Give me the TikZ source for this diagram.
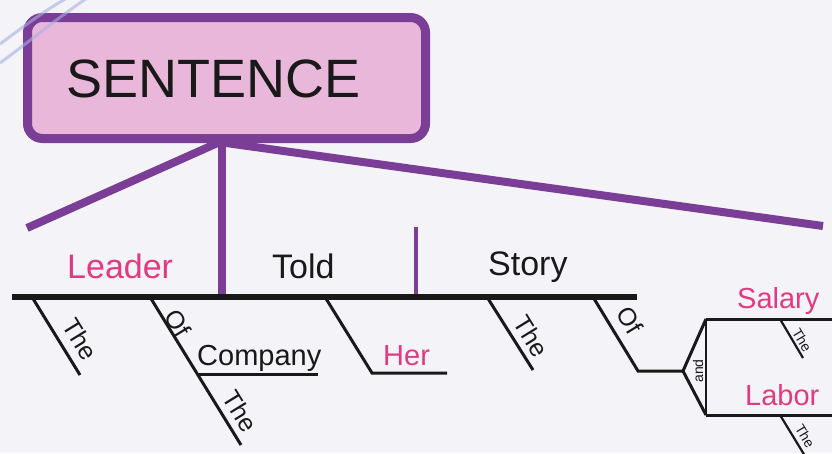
\documentclass[tikz,border=0pt]{standalone}
\usepackage{fontspec}
\setmainfont{Liberation Sans}
\definecolor{paper}{RGB}{244,243,247}
\definecolor{purp}{RGB}{122,62,150}
\definecolor{pinkfill}{RGB}{233,183,218}
\definecolor{wordpink}{RGB}{226,58,130}
\definecolor{ink}{RGB}{25,25,25}
\definecolor{halo}{RGB}{168,176,226}
\tikzset{
  word/.style={font=\fontsize{29}{29}\selectfont, inner sep=0pt, text=ink, anchor=base west},
  big word/.style={word, font=\fontsize{34}{34}\selectfont},
  noun/.style={word, text=wordpink},
  modword/.style={font=\fontsize{25}{25}\selectfont, inner sep=0pt, text=ink, rotate=-58.4},
  smallword/.style={font=\fontsize{14}{14}\selectfont, inner sep=0pt, text=ink},
  baseline rule/.style={ink, line width=6pt},
  branch/.style={ink, line width=3pt},
  thin branch/.style={ink, line width=2.2pt},
  stem/.style={purp, line width=8pt},
}
\begin{document}
\begin{tikzpicture}[x=1pt,y=-1pt]
  \useasboundingbox (0,0) rectangle (832,453);
  \fill[paper] (0,0) rectangle (832,453);

  % title box
  \node[draw=purp, line width=9pt, fill=pinkfill, rounded corners=15pt,
        minimum width=398pt, minimum height=121pt, inner sep=0pt] (box) at (226.5,78) {};
  \node[font=\fontsize{54}{54}\selectfont, inner sep=0pt, anchor=base west, text=ink]
        (title) at (66,97) {SENTENCE};

  % key points of the diagram
  \coordinate (apex) at (222,141);
  \coordinate (apexR) at (226,143);
  \coordinate (leftEnd) at (27,228);
  \coordinate (rightEnd) at (823,226);
  \coordinate (baseL) at (12,297);
  \coordinate (baseR) at (637,297);
  \coordinate (verbFoot) at (222,297);
  \coordinate (objTop) at (416,227);
  \coordinate (objFoot) at (416,297);

  % purple frame lines from the title
  \draw[stem] (apex) -- (leftEnd);
  \draw[stem] (apexR) -- (rightEnd);
  \draw[stem] (apex) -- (verbFoot);
  \draw[purp, line width=4.5pt] (objTop) -- (objFoot);

  % main line
  \draw[baseline rule] (baseL) -- (baseR);

  % modifiers of "Leader"
  \coordinate (the1a) at (32,297);   \coordinate (the1b) at (80,375);
  \draw[branch] (the1a) -- (the1b);
  \coordinate (of1a) at (150,297);  \coordinate (of1b) at (198,374);
  \coordinate (of1c) at (241,445);  \coordinate (comp) at (318,374);
  \draw[branch] (of1a) -- (of1c);
  \draw[branch] (of1b) -- (comp);

  % indirect object
  \coordinate (hera) at (325,297); \coordinate (herb) at (372,373);
  \coordinate (herc) at (447,373);
  \draw[branch] (hera) -- (herb) -- (herc);

  % modifiers of "Story"
  \coordinate (the3a) at (487,297); \coordinate (the3b) at (533,370);
  \draw[branch] (the3a) -- (the3b);
  \coordinate (of2a) at (593,297); \coordinate (of2b) at (638,371);
  \coordinate (fork) at (683,371);
  \coordinate (upJ) at (706,319);  \coordinate (lowJ) at (706,415);
  \coordinate (upR) at (834,319);  \coordinate (lowR) at (834,415);
  \draw[branch] (of2a) -- (of2b) -- (fork);
  \draw[branch] (upJ) -- (fork) -- (lowJ);
  \draw[thin branch] (upJ) -- (lowJ);
  \draw[branch] (upJ) -- (upR);
  \draw[branch] (lowJ) -- (lowR);
  \coordinate (the4a) at (780,319); \coordinate (the4b) at (803,358);
  \coordinate (the5a) at (780,415); \coordinate (the5b) at (805,456);
  \draw[thin branch] (the4a) -- (the4b);
  \draw[thin branch] (the5a) -- (the5b);

  % words on the lines
  \node[big word, text=wordpink] (leader) at (67,278) {Leader};
  \node[big word] (told) at (272,278) {Told};
  \node[big word] (story) at (488,275) {Story};
  \node[word] (company) at (197,365) {Company};
  \node[noun] (her) at (383,365) {Her};
  \node[noun] (salary) at (737,308) {Salary};
  \node[noun] (labor) at (745,405) {Labor};

  % slanted modifiers
  \node[modword] (the1) at (80,339) {The};
  \node[modword] (of1) at (178,323) {Of};
  \node[modword] (the2) at (240,411) {The};
  \node[modword] (the3) at (531,336) {The};
  \node[modword] (of2) at (630,320) {Of};
  \node[smallword, rotate=-59] (the4) at (802,340) {The};
  \node[smallword, rotate=-59] (the5) at (805,436) {The};
  \node[smallword, rotate=90] (and) at (698,371) {and};

  % faint rings in the corner
  \draw[halo, line width=3pt, opacity=0.6] (0,44) .. controls (20,29) and (44,11) .. (67,-2);
  \draw[halo, line width=3pt, opacity=0.6] (0,63) .. controls (26,44) and (55,20) .. (87,-2);
\end{tikzpicture}
\end{document}
